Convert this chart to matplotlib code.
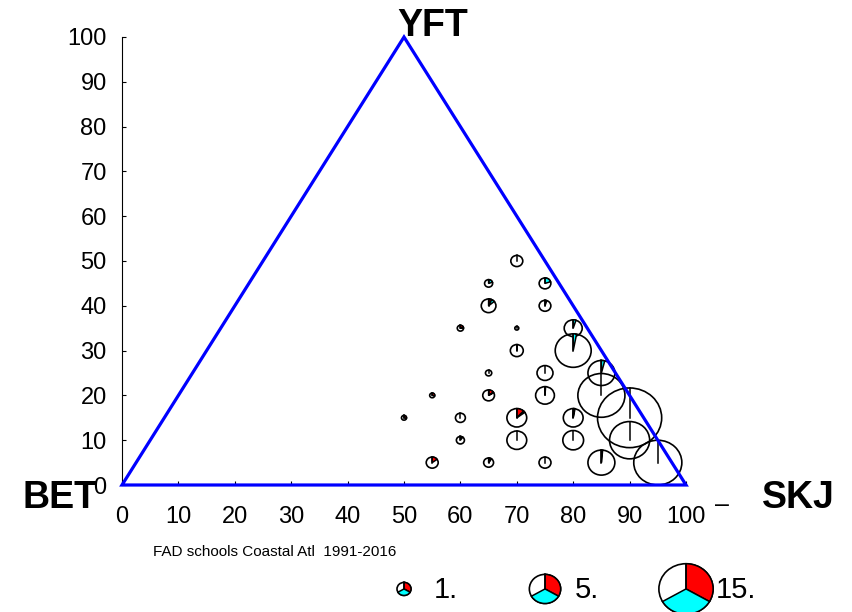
import matplotlib
matplotlib.use("Agg")
import matplotlib.pyplot as plt
from matplotlib.patches import Wedge, Polygon, Circle
from matplotlib.lines import Line2D
from matplotlib.transforms import Affine2D, ScaledTranslation

plt.rcParams['font.family'] = ['Liberation Sans Narrow', 'Liberation Sans', 'DejaVu Sans']

# pie centres in the triangle (x = SKJ-axis position, y = YFT-axis position)
pie_x = [70, 65, 75, 65, 75, 60, 70, 80, 70, 80,
         65, 75, 85, 55, 65, 75, 85, 50, 60, 70,
         80, 90, 60, 70, 80, 90, 55, 65, 75, 85, 95]
pie_y = [50, 45, 45, 40, 40, 35, 35, 35, 30, 30,
         25, 25, 25, 20, 20, 20, 20, 15, 15, 15,
         15, 15, 10, 10, 10, 10, 5, 5, 5, 5, 5]
# catch size (pie area scaled to legend 1, 5, 15)
pie_size = [0.73, 0.33, 0.7, 1.1, 0.7, 0.2, 0.08, 1.65, 0.85, 6.6,
            0.2, 1.3, 3.7, 0.13, 0.7, 1.8, 11.3, 0.13, 0.5, 2.0,
            2.0, 21.0, 0.33, 2.0, 2.2, 8.2, 0.73, 0.5, 0.73, 3.7, 11.8]
# share of red (YFT) and cyan (BET) in each pie, rest white (SKJ)
frac_red = [0.0, 0.0, 0.0, 0.07, 0.0, 0.2, 0.0, 0.0, 0.01, 0.0,
            0.0, 0.0, 0.0, 0.3, 0.15, 0.0, 0.0, 0.3, 0.0, 0.12,
            0.01, 0.0, 0.1, 0.0, 0.0, 0.0, 0.15, 0.08, 0.0, 0.015, 0.0]
frac_cyan = [0.0, 0.2, 0.2, 0.07, 0.05, 0.03, 0.0, 0.05, 0.0, 0.03,
             0.0, 0.0, 0.04, 0.0, 0.02, 0.01, 0.0, 0.0, 0.0, 0.03,
             0.02, 0.0, 0.0, 0.0, 0.0, 0.0, 0.0, 0.02, 0.0, 0.0, 0.0]

legend_x = [50, 75, 100]
legend_size = [1, 5, 15]
legend_labels = ["1.", "5.", "15."]

ticks = list(range(0, 101, 10))

fig = plt.figure(figsize=(8.52, 6.12), dpi=100)
ax = fig.add_axes([122 / 852, (612 - 485) / 612, 564 / 852, 448 / 612])
ax.set_xlim(0, 100)
ax.set_ylim(0, 100)


def draw_pie(x, y, size, fr, fc, white_fill='none'):
    # radius in inches, circle kept round on screen
    r = 7.0 * size ** 0.5 / 100.0
    trans = Affine2D().scale(1, 0.93) + fig.dpi_scale_trans + ScaledTranslation(x, y, ax.transData)
    # outline of the whole pie, white part left open
    ax.add_patch(Circle((0, 0), r, facecolor=white_fill, edgecolor='black',
                        linewidth=1.2, transform=trans, clip_on=False, zorder=3))
    start = 90.0
    for f, col in [(fr, 'red'), (fc, 'cyan')]:
        if f <= 0:
            continue
        end = start - 360.0 * f
        w = Wedge((0, 0), r, end, start, facecolor=col, edgecolor='black',
                  linewidth=1.1, transform=trans, clip_on=False, zorder=3.1)
        ax.add_patch(w)
        start = end
    # sector boundary at 12 o'clock
    ax.add_line(Line2D([0, 0], [0, r], color='black', linewidth=1.1,
                       transform=trans, clip_on=False, zorder=3.2))


for i in range(len(pie_x)):
    draw_pie(pie_x[i], pie_y[i], pie_size[i], frac_red[i], frac_cyan[i])

# triangle
tri = Polygon([[0, 0], [50, 100], [100, 0]], closed=True, fill=False,
              edgecolor='blue', linewidth=2.3, zorder=4, clip_on=False)
ax.add_patch(tri)

ax.spines['top'].set_visible(False)
ax.spines['right'].set_visible(False)
ax.spines['bottom'].set_visible(False)
ax.set_xticks(ticks)
ax.set_yticks(ticks)
ax.tick_params(axis='both', direction='in', length=3, labelsize=17)
ax.tick_params(axis='y', pad=11)
ax.tick_params(axis='x', pad=15)

ax.text(55, 102.5, "YFT", fontsize=27, fontweight='bold', family='Liberation Sans',
        ha='center', va='center', clip_on=False)
ax.text(-11, -2.8, "BET", fontsize=27, fontweight='bold', family='Liberation Sans',
        ha='center', va='center', clip_on=False)
ax.text(120, -2.8, "SKJ", fontsize=27, fontweight='bold', family='Liberation Sans',
        ha='center', va='center', clip_on=False)
ax.text(106.3, -4.5, "\u2013", fontsize=18, ha='center', va='center', clip_on=False)
ax.text(5.5, -15, "FAD schools Coastal Atl  1991-2016", fontsize=11,
        ha='left', va='center', clip_on=False)

for i in range(len(legend_x)):
    draw_pie(legend_x[i], -23.2, legend_size[i], 1 / 3, 1 / 3, white_fill='white')
    ax.text(legend_x[i] + 5.2, -23.5, legend_labels[i], fontsize=21, family='Liberation Sans',
            ha='left', va='center', clip_on=False)

fig.savefig("out.png", dpi=100)
